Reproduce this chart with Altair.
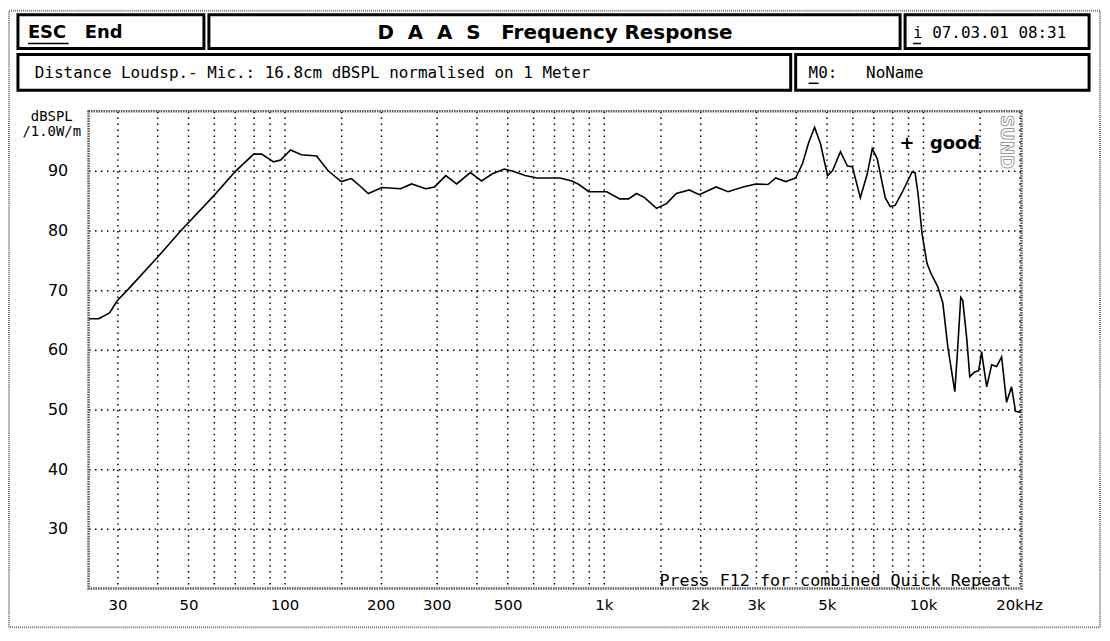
import altair as alt
import pandas as pd

# ---------------- data ----------------
FREQ = [24.3, 26.2, 28.3, 30.0, 32.2, 40.0, 47.4, 60.0, 70.4, 80.1, 84.8, 92.4, 97.2,
        104.4, 113, 126, 137, 150.5, 162, 172, 183, 202, 231, 250, 277, 295, 320,
        346, 382, 414, 448, 488, 528, 567, 618, 729, 795, 836, 898, 1022, 1122,
        1196, 1267, 1342, 1463, 1572, 1688, 1853, 1991, 2249, 2451, 2730, 2997,
        3266, 3459, 3717, 3992, 4199, 4382, 4575, 4777, 5022, 5206, 5512, 5797,
        6008, 6363, 6691, 6936, 7189, 7614, 7893, 8180, 8662, 9243, 9443, 9647,
        9929, 10290, 10590, 11140, 11540, 11960, 12580, 12850, 13130, 13320,
        13720, 14010, 14520, 14940, 15270, 15380, 15830, 16410, 17000, 17630,
        18270, 18940, 19490, 20340]
SPL = [65.2, 65.2, 66.2, 68.3, 70.0, 75.5, 80.0, 85.8, 90.0, 92.8, 92.8, 91.5, 91.8,
       93.5, 92.7, 92.5, 90.0, 88.2, 88.7, 87.5, 86.2, 87.2, 87.0, 87.8, 87.0, 87.3, 89.2,
       87.8, 89.7, 88.3, 89.5, 90.3, 89.8, 89.2, 88.8, 88.8, 88.3, 87.7, 86.5, 86.5, 85.3,
       85.3, 86.2, 85.5, 83.7, 84.5, 86.2, 86.8, 86.0, 87.3, 86.5, 87.3, 87.8,
       87.7, 88.8, 88.2, 88.8, 91.3, 94.7, 97.3, 94.5, 89.2, 90.0, 93.2, 90.8,
       90.7, 85.5, 89.5, 93.7, 92.0, 85.5, 84.0, 84.2, 86.7, 89.8, 89.7, 86.2,
       79.5, 74.5, 72.8, 70.5, 67.8, 60.5, 53.0, 60.5, 68.8, 68.3,
       61.7, 55.5, 56.3, 56.5, 59.7, 58.3, 53.8, 57.5, 57.2, 58.8,
       51.2, 53.8, 49.7, 49.5]

GRID_X = [30, 40, 50, 60, 70, 80, 90, 100, 150, 200, 300, 400, 500, 600, 700, 800, 900,
          1000, 1500, 2000, 3000, 4000, 5000, 6000, 7000, 8000, 9000, 10000, 15000, 20000]
X_LABEL_VALUES = [30, 50, 100, 200, 300, 500, 1000, 2000, 3000, 5000, 10000, 20000]
X_LABEL_TEXT = ["30", "50", "100", "200", "300", "500", "1k", "2k", "3k", "5k", "10k", "20kHz"]
GRID_Y = [30, 40, 50, 60, 70, 80, 90]

NB = "\u00a0"
TITLE = f"D{NB}{NB}A{NB}{NB}A{NB}{NB}S{NB}{NB}{NB}Frequency{NB}Response"
ESC_TEXT = f"ESC{NB}{NB}{NB}End"
DATE_TEXT = "i 07.03.01 08:31"
INFO_TEXT = "Distance Loudsp.- Mic.: 16.8cm dBSPL normalised on 1 Meter"
MO_TEXT = f"M0:{NB}{NB}{NB}NoName"
Y_UNIT = ["dBSPL", "/1.0W/m"]
FOOT_TEXT = "Press F12 for combined Quick Repeat"
GOOD_TEXT = "good"

df = pd.DataFrame({"f": FREQ, "db": SPL})

# ---------------- layout helpers ----------------
OX, OY = 89, 110          # screen position of plot-area origin
ONE = alt.Data(values=[{"k": 0}])
MONO = "DejaVu Sans Mono"
SANS = "DejaVu Sans"


def box(x1, y1, x2, y2, **mk):
    return alt.Chart(ONE).mark_rect(**mk).encode(
        x=alt.value(x1 - OX), x2=alt.value(x2 - OX),
        y=alt.value(y1 - OY), y2=alt.value(y2 - OY))


def txt(text, x, y, **mk):
    return alt.Chart(ONE).mark_text(text=text, **mk).encode(
        x=alt.value(x - OX), y=alt.value(y - OY))


def hline(x1, x2, y, **mk):
    return alt.Chart(ONE).mark_rule(**mk).encode(
        x=alt.value(x1 - OX), x2=alt.value(x2 - OX), y=alt.value(y - OY))


label_expr = " : ".join(
    f"datum.value == {v} ? '{t}'" for v, t in zip(X_LABEL_VALUES, X_LABEL_TEXT)) + " : ''"

frame = dict(fill="white", stroke="black", strokeWidth=3)

layers = [
    box(9, 9, 1106, 629, fill="transparent", stroke="#777", strokeWidth=2, strokeDash=[1, 1]),
    box(18, 13, 205, 47, **frame),
    box(210, 13, 905, 47, **frame),
    box(910, 13, 1095, 47, **frame),
    box(18, 53, 795, 89, **frame),
    box(800, 53, 1095, 89, **frame),
]

line = alt.Chart(df).mark_line(color="black", strokeWidth=1.6, clip=True).encode(
    x=alt.X("f:Q",
            scale=alt.Scale(type="log", domain=[24.33, 20340], nice=False),
            axis=alt.Axis(values=GRID_X, labelExpr=label_expr, grid=True,
                          gridDash=[1.5, 4.5], gridColor="black", gridWidth=1.5,
                          ticks=False, domain=False, labelPadding=9,
                          labelFont=SANS, labelFontSize=15, labelColor="black",
                          labelOverlap=False, labelFlush=False, title=None)),
    y=alt.Y("db:Q",
            scale=alt.Scale(domain=[20, 100], nice=False, zero=False),
            axis=alt.Axis(values=GRID_Y, grid=True, gridDash=[1.5, 4.5],
                          gridColor="black", gridWidth=1.5, ticks=False,
                          domain=False, labelPadding=21, labelFont=SANS,
                          labelFontSize=16, labelColor="black", title=None)),
)
layers.append(line)

layers += [
    box(89, 110, 1027, 590, fill="transparent", stroke="#555", strokeWidth=2.5,
        strokeDash=[1.5, 1]),
    txt(ESC_TEXT, 28, 31, align="left", baseline="middle", font=SANS,
        fontWeight="bold", fontSize=18, color="black"),
    hline(28, 69, 42, color="black", strokeWidth=1.5),
    txt(TITLE, 558, 31, align="center", baseline="middle", font=SANS,
        fontWeight="bold", fontSize=20, color="black"),
    txt(DATE_TEXT, 918, 31, align="left", baseline="middle", font=MONO,
        fontSize=16, color="black"),
    hline(918, 926, 42, color="black", strokeWidth=1.5),
    txt(INFO_TEXT, 35, 72, align="left", baseline="middle", font=MONO,
        fontSize=16, color="black"),
    txt(MO_TEXT, 813, 72, align="left", baseline="middle", font=MONO,
        fontSize=16, color="black"),
    hline(813, 823, 82, color="black", strokeWidth=1.5),
    txt(Y_UNIT[0], 52, 116, align="center", baseline="middle", font=MONO,
        fontSize=14, color="black"),
    txt(Y_UNIT[1], 52, 131, align="center", baseline="middle", font=MONO,
        fontSize=14, color="black"),
    txt("+", 912, 143, align="center", baseline="middle", font=SANS,
        fontWeight="bold", fontSize=18, color="black"),
    txt(GOOD_TEXT, 935, 143, align="left", baseline="middle", font=SANS,
        fontWeight="bold", fontSize=18, color="black"),
    txt("SUND", 1011, 141, align="center", baseline="middle", font=SANS,
        fontWeight="bold", fontSize=17, angle=90, fill="white",
        stroke="#888", strokeWidth=0.8),
    txt(FOOT_TEXT, 663, 587, align="left", baseline="alphabetic", font=MONO,
        fontSize=16.8, color="black"),
]

chart = alt.layer(*layers).properties(
    width=938, height=480,
    padding={"left": 81, "top": 102, "right": 81, "bottom": 40},
    autosize=alt.AutoSizeParams(type="none"),
    background="white",
).configure_view(stroke=None)

chart.save("out.html", embed_options={"renderer": "svg", "actions": False})
